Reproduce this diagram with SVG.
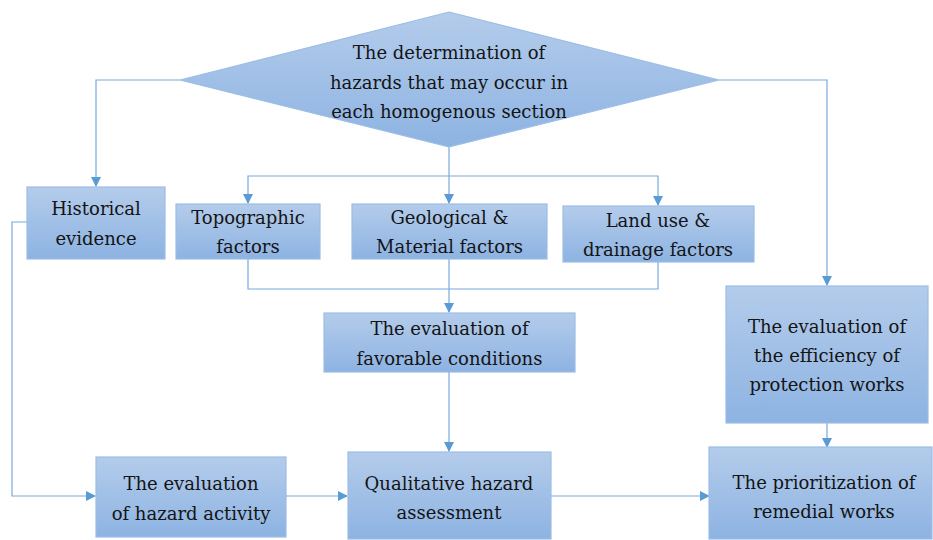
<svg xmlns="http://www.w3.org/2000/svg" width="933" height="540" viewBox="0 0 933 540">
<defs>
<linearGradient id="g" x1="0" y1="0" x2="0" y2="1">
<stop offset="0" stop-color="#b4cceb"/>
<stop offset="1" stop-color="#8db3e2"/>
</linearGradient>
<marker id="a" markerWidth="10" markerHeight="10" refX="9" refY="5" orient="auto" markerUnits="userSpaceOnUse">
<path d="M0,0 L10,5 L0,10 z" fill="#5b9bd5"/>
</marker>
<style>
.n{fill:url(#g);stroke:#9cbde6;stroke-width:1.2}
.t{font-family:"DejaVu Serif","Liberation Serif",serif;font-size:18px;fill:#141414;text-anchor:middle}
.c{fill:none;stroke:#79a9de;stroke-width:1.2}
.c.ar{marker-end:url(#a)}
</style>
</defs>
<rect width="933" height="540" fill="#ffffff"/>
<g id="connectors">
<polyline class="c ar" points="180,80 96,80 96,186"/>
<polyline class="c ar" points="719,80 827,80 827,285"/>
<line class="c" x1="449" y1="147" x2="449" y2="176"/>
<polyline class="c ar" points="449,176 248,176 248,203"/>
<line class="c ar" x1="449" y1="176" x2="449" y2="203"/>
<polyline class="c ar" points="449,176 658,176 658,205"/>
<polyline class="c" points="248,259 248,289 658,289 658,262"/>
<line class="c ar" x1="449" y1="259" x2="449" y2="312"/>
<line class="c ar" x1="449" y1="372" x2="449" y2="451"/>
<polyline class="c ar" points="27,222 12,222 12,496 95,496"/>
<line class="c ar" x1="286" y1="496" x2="347" y2="496"/>
<line class="c ar" x1="551" y1="496" x2="709" y2="496"/>
<line class="c ar" x1="827" y1="423" x2="827" y2="447"/>
</g>
<g id="n-determination">
<polygon class="n" points="449,12 719,80 449,147 180,80"/>
<text class="t" x="449" y="59">The determination of</text>
<text class="t" x="449" y="89">hazards that may occur in</text>
<text class="t" x="449" y="118">each homogenous section</text>
</g>
<g id="n-historical">
<rect class="n" x="27" y="187" width="138" height="72"/>
<text class="t" x="96" y="215">Historical</text>
<text class="t" x="96" y="245">evidence</text>
</g>
<g id="n-topographic">
<rect class="n" x="176" y="204" width="144" height="55"/>
<text class="t" x="248" y="224">Topographic</text>
<text class="t" x="248" y="253">factors</text>
</g>
<g id="n-geological">
<rect class="n" x="352" y="204" width="195" height="55"/>
<text class="t" x="449.5" y="224">Geological &amp;</text>
<text class="t" x="449.5" y="253">Material factors</text>
</g>
<g id="n-landuse">
<rect class="n" x="563" y="206" width="191" height="56"/>
<text class="t" x="658" y="227">Land use &amp;</text>
<text class="t" x="658" y="256">drainage factors</text>
</g>
<g id="n-favorable">
<rect class="n" x="324" y="313" width="251" height="59"/>
<text class="t" x="449.5" y="335">The evaluation of</text>
<text class="t" x="449.5" y="365">favorable conditions</text>
</g>
<g id="n-efficiency">
<rect class="n" x="726" y="286" width="202" height="137"/>
<text class="t" x="827" y="333">The evaluation of</text>
<text class="t" x="827" y="362">the efficiency of</text>
<text class="t" x="827" y="391">protection works</text>
</g>
<g id="n-activity">
<rect class="n" x="96" y="457" width="190" height="80"/>
<text class="t" x="191" y="490">The evaluation</text>
<text class="t" x="191" y="520">of hazard activity</text>
</g>
<g id="n-qualitative">
<rect class="n" x="348" y="452" width="203" height="87"/>
<text class="t" x="449" y="490">Qualitative hazard</text>
<text class="t" x="449" y="519">assessment</text>
</g>
<g id="n-prioritization">
<rect class="n" x="709" y="447" width="223" height="92"/>
<text class="t" x="824" y="489">The prioritization of</text>
<text class="t" x="824" y="518">remedial works</text>
</g>
</svg>
